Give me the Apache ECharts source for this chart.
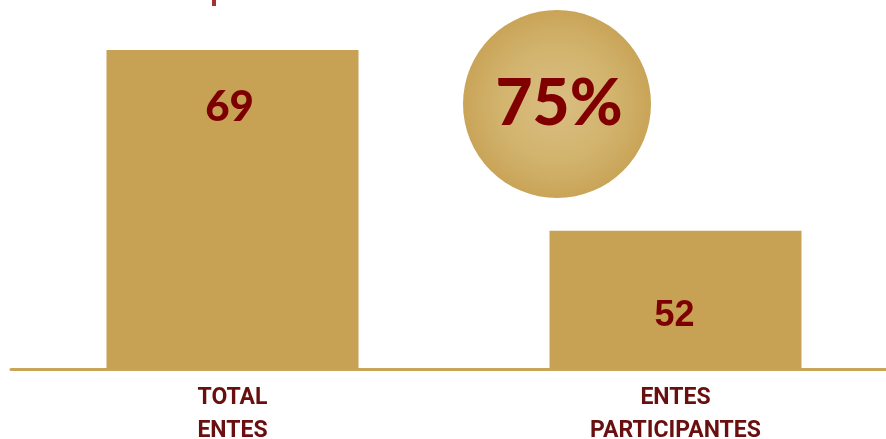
<!DOCTYPE html>
<html>
<head>
<meta charset="utf-8">
<script src="https://cdn.jsdelivr.net/npm/echarts@6/dist/echarts.min.js"></script>
<style>
html,body{margin:0;padding:0;background:#fff;}
#main{width:886px;height:439px;}
</style>
</head>
<body>
<div id="main"></div>
<script>
const categories = ['TOTAL\nENTES', 'ENTES\nPARTICIPANTES'];
const values = [69, 52];

const pct = Math.round(values[1] / values[0] * 100) + '%';

const chart = echarts.init(document.getElementById('main'), null, {renderer: 'canvas'});
const labelStyles = [
  {position: ['50%', 57], offset: [-3, 0], fontFamily: 'Lato', fontWeight: 900, fontSize: 42},
  {position: ['50%', 85], offset: [-1, 0], fontFamily: 'Liberation Sans', fontWeight: 'bold', fontSize: 36}
];
chart.setOption({
  animation: false,
  backgroundColor: '#ffffff',
  grid: {left: 11, right: -11, top: 50, bottom: 70, containLabel: false, outerBoundsMode: 'none'},
  xAxis: {
    type: 'category',
    data: categories,
    axisLine: {show: true, lineStyle: {color: '#C9A559', width: 3}},
    axisTick: {show: false},
    axisLabel: {
      color: '#6A0F0F', fontFamily: 'Roboto', fontWeight: 'bold', fontSize: 23,
      lineHeight: 33, margin: 13, interval: 0
    }
  },
  yAxis: {
    type: 'value', min: 39, max: 69, show: false,
    splitLine: {show: false}
  },
  series: [{
    type: 'bar',
    barWidth: 252,
    itemStyle: {color: '#C8A254'},
    data: values.map((v, i) => ({
      value: v,
      label: Object.assign({
        show: true, align: 'center', verticalAlign: 'middle', color: '#7D0000'
      }, labelStyles[i])
    }))
  }],
  graphic: [
    {
      type: 'circle', shape: {cx: 557, cy: 104, r: 94},
      style: {
        fill: new echarts.graphic.RadialGradient(0.5, 0.5, 0.5, [
          {offset: 0, color: '#DABE82'},
          {offset: 0.6, color: '#D2B46E'},
          {offset: 1, color: '#C9A458'}
        ])
      }
    },
    {
      type: 'text', x: 559, y: 104,
      style: {
        text: pct, fill: '#800000', font: '900 64px Lato',
        align: 'center', verticalAlign: 'middle'
      }
    },
    {
      type: 'rect', shape: {x: 212, y: 0, width: 4, height: 6},
      style: {fill: '#A03333'}
    }
  ]
});
</script>
</body>
</html>
